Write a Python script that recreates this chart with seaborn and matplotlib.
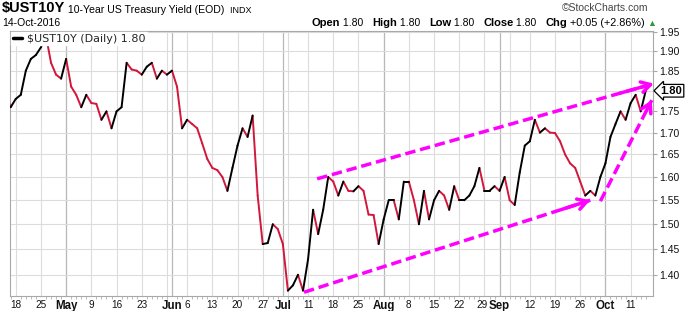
import numpy as np
import pandas as pd
import matplotlib
matplotlib.use('Agg')
import matplotlib.pyplot as plt
import matplotlib.transforms as mtransforms
from matplotlib.lines import Line2D
from matplotlib.ticker import NullLocator, FixedLocator
import seaborn as sns

# ---------------- data ----------------
holidays = ['2016-05-30', '2016-07-04', '2016-09-05', '2016-10-10']
dates = pd.bdate_range('2016-04-14', '2016-10-14')
dates = dates[~dates.isin(pd.to_datetime(holidays))]

yields = [
    1.79,
    1.76, 1.78, 1.79, 1.85, 1.88, 1.89, 1.91, 1.94, 1.87, 1.84,
    1.83, 1.88, 1.81, 1.79, 1.76, 1.79, 1.77, 1.768, 1.73, 1.75,
    1.71, 1.75, 1.76, 1.87, 1.853, 1.85, 1.84, 1.86, 1.87, 1.83,
    1.85, 1.84, 1.85, 1.81, 1.71, 1.73, 1.72, 1.71, 1.675, 1.64,
    1.62, 1.615, 1.60, 1.57, 1.62, 1.67, 1.71, 1.69, 1.74, 1.56,
    1.46, 1.462, 1.50, 1.49, 1.46, 1.37, 1.38, 1.40, 1.37, 1.43,
    1.53, 1.48, 1.53, 1.60, 1.59, 1.56, 1.59, 1.57, 1.569, 1.58,
    1.57, 1.52, 1.519, 1.46, 1.51, 1.55, 1.55, 1.51, 1.59, 1.59,
    1.55, 1.50, 1.57, 1.51, 1.55, 1.57, 1.56, 1.53, 1.58, 1.55,
    1.55, 1.56, 1.58, 1.62, 1.57, 1.57, 1.58, 1.57, 1.60, 1.55,
    1.54, 1.61, 1.67, 1.68, 1.73, 1.70, 1.71, 1.70, 1.699, 1.68,
    1.65, 1.63, 1.62, 1.59, 1.56, 1.57, 1.56, 1.60, 1.63, 1.69,
    1.72, 1.75, 1.73, 1.77, 1.79, 1.75, 1.80,
]

week_starts = ['2016-04-18', '2016-04-25', '2016-05-02', '2016-05-09', '2016-05-16',
               '2016-05-23', '2016-05-31', '2016-06-06', '2016-06-13', '2016-06-20',
               '2016-06-27', '2016-07-05', '2016-07-11', '2016-07-18', '2016-07-25',
               '2016-08-01', '2016-08-08', '2016-08-15', '2016-08-22', '2016-08-29',
               '2016-09-06', '2016-09-12', '2016-09-19', '2016-09-26', '2016-10-03',
               '2016-10-11']
month_starts = ['2016-05-02', '2016-06-01', '2016-07-01', '2016-08-01', '2016-09-01', '2016-10-03']
month_labels = ['May', 'Jun', 'Jul', 'Aug', 'Sep', 'Oct']
week_label_dates = ['2016-04-18', '2016-04-25', '2016-05-09', '2016-05-16', '2016-05-23',
                    '2016-06-06', '2016-06-13', '2016-06-20', '2016-06-27', '2016-07-11',
                    '2016-07-18', '2016-07-25', '2016-08-08', '2016-08-15', '2016-08-22',
                    '2016-08-29', '2016-09-12', '2016-09-19', '2016-09-26', '2016-10-11']
week_labels = ['18', '25', '9', '16', '23', '6', '13', '20', '27', '11',
               '18', '25', '8', '15', '22', '29', '12', '19', '26', '11']
y_ticks = [1.40, 1.45, 1.50, 1.55, 1.60, 1.65, 1.70, 1.75, 1.80, 1.85, 1.90, 1.95]
last_value = 1.80

# trend-line annotations (x in trading-day index, y in yield)
upper_x, upper_y = [61.8, 128.6], [1.596, 1.8175]
lower_x, lower_y = [59.2, 116.0], [1.367, 1.55]
steep_x, steep_y = [118.0, 128.2], [1.548, 1.777]

# ---------------- style ----------------
sns.set_theme(style='white')
plt.rcParams['font.family'] = ['Liberation Sans', 'DejaVu Sans']

RED = '#d3163b'
MAG = '#ff00ff'
GRID = '#dcdcdc'
GRID_DARK = '#b8b8b8'
FRAME = '#a8a8a8'

W, H = 693, 311
fig = plt.figure(figsize=(W / 100, H / 100), dpi=100)
ax = fig.add_axes([10 / W, 15 / H, 643 / W, 265 / H])

def pos(d):
    return dates.get_loc(pd.Timestamp(d))

n = len(yields)
rows = []
for i in range(1, n):
    d = 'up' if yields[i] >= yields[i - 1] else 'down'
    rows.append((i - 1, yields[i - 1], i, d))
    rows.append((i, yields[i], i, d))
df = pd.DataFrame(rows, columns=['x', 'y', 'seg', 'dir'])

sns.lineplot(data=df, x='x', y='y', hue='dir', units='seg', estimator=None,
             palette={'up': '#000000', 'down': RED}, linewidth=1.4,
             legend=False, sort=False, ax=ax, zorder=3)

ax.set_yscale('log')
ax.set_ylim(1.36, 1.953)
ax.set_xlim(0.86, 128.44)

# grid
for d in week_starts:
    ax.axvline(pos(d), color=GRID, lw=0.8, zorder=0)
for d in month_starts:
    ax.axvline(pos(d), color=GRID_DARK, lw=0.9, zorder=0)
ax.yaxis.set_major_locator(FixedLocator(y_ticks))
ax.yaxis.set_minor_locator(NullLocator())
ax.set_yticklabels(['' if abs(t - last_value) < 1e-9 else f'{t:.2f}' for t in y_ticks])
ax.grid(axis='y', color=GRID, lw=0.8)
ax.grid(axis='x', visible=False)
ax.set_axisbelow(True)

ax.yaxis.tick_right()
ax.tick_params(axis='y', which='major', right=True, left=False, length=3, width=0.8,
               color=FRAME, pad=1.5, labelsize=7.5, labelcolor='#111111')

# x ticks
tick_pos = [pos(d) for d in week_label_dates] + [pos(d) for d in month_starts]
tick_lab = week_labels + month_labels
order = np.argsort(tick_pos)
ax.set_xticks([tick_pos[k] for k in order])
ax.set_xticklabels([tick_lab[k] for k in order])
ax.xaxis.set_minor_locator(FixedLocator(list(range(n))))
ax.tick_params(axis='x', which='major', bottom=True, length=0, pad=3, labelsize=7.2,
               labelcolor='#111111')
ax.tick_params(axis='x', which='minor', bottom=True, length=2, width=0.6, color='#b0b0b0')
shift_left = mtransforms.ScaledTranslation(-2 / 100, 0, fig.dpi_scale_trans)
for lab in ax.get_xticklabels():
    if lab.get_text() in month_labels:
        lab.set_fontweight('bold')
        lab.set_fontsize(8.3)
    if lab.get_text() == '29':
        lab.set_transform(lab.get_transform() + shift_left)
ax.set_xlabel('')
ax.set_ylabel('')

for s in ax.spines.values():
    s.set_color(FRAME)
    s.set_linewidth(0.8)

# trend lines
for xs, ys in [(upper_x, upper_y), (lower_x, lower_y), (steep_x, steep_y)]:
    ax.plot(xs, ys, color=MAG, lw=2.5, dashes=(3, 1.4), zorder=4, clip_on=False,
            solid_capstyle='butt', dash_capstyle='butt')
    x0, y0 = xs[0], ys[0]
    x1, y1 = xs[1], ys[1]
    f = 0.9
    xa = x0 + (x1 - x0) * f
    ya = y0 * (y1 / y0) ** f
    ax.annotate('', xy=(x1, y1), xytext=(xa, ya),
                arrowprops=dict(arrowstyle='->,head_length=0.55,head_width=0.32',
                                color=MAG, lw=2.5, shrinkA=0, shrinkB=0),
                annotation_clip=False, zorder=4)

# legend
handle = Line2D([], [], color='black', lw=2.5)
leg = ax.legend([handle], ['\\$UST10Y (Daily) 1.80'], loc='upper left',
                bbox_to_anchor=(0.0, 1.0), borderaxespad=0.1, frameon=True,
                fancybox=False, framealpha=1, edgecolor='white', facecolor='white',
                handlelength=0.8, handletextpad=0.5, borderpad=0.15,
                prop={'family': 'DejaVu Sans', 'size': 8})
leg.set_zorder(6)

# last value box
trans = mtransforms.blended_transform_factory(ax.transAxes, ax.transData)
ax.text(1.012, last_value, f'{last_value:.2f}', transform=trans, ha='left', va='center',
        fontsize=8, fontweight='bold', color='black', zorder=7, clip_on=False,
        bbox=dict(boxstyle='larrow,pad=0.12', fc='white', ec='black', lw=0.9))

# header texts
def chain(parts, x0, y0):
    first = parts[0]
    t = fig.text(x0 / W, 1 - y0 / H, first[0], fontsize=first[1], fontweight=first[2],
                 color=first[3], va='bottom', ha='left')
    for txt, size, weight, color in parts[1:]:
        t = ax.annotate(txt, xy=(1, 0), xycoords=t, va='bottom', ha='left',
                        fontsize=size, fontweight=weight, color=color,
                        annotation_clip=False)
    return t

chain([('\\$UST10Y', 10.5, 'bold', '#000000'),
       (' 10-Year US Treasury Yield (EOD)', 7.6, 'normal', '#000000'),
       ('  INDX', 6.5, 'normal', '#000000')], 2, 15)
fig.text(2 / W, 1 - 28 / H, '14-Oct-2016', fontsize=7.5, va='bottom', ha='left', color='#000000')
chain([('Open', 8, 'bold', '#000000'), (' 1.80   ', 7.5, 'normal', '#000000'),
       ('High', 8, 'bold', '#000000'), (' 1.80   ', 7.5, 'normal', '#000000'),
       ('Low', 8, 'bold', '#000000'), (' 1.80   ', 7.5, 'normal', '#000000'),
       ('Close', 8, 'bold', '#000000'), (' 1.80   ', 7.5, 'normal', '#000000'),
       ('Chg', 8, 'bold', '#000000'), (' +0.05 (+2.86%) ', 7.8, 'normal', '#000000'),
       ('▲', 6.5, 'normal', '#2e9a3a')], 312, 28)
fig.text(648 / W, 1 - 13 / H, '©StockCharts.com', fontsize=7.5, va='bottom', ha='right',
         color='#444444')

fig.savefig('out.png', dpi=100)
